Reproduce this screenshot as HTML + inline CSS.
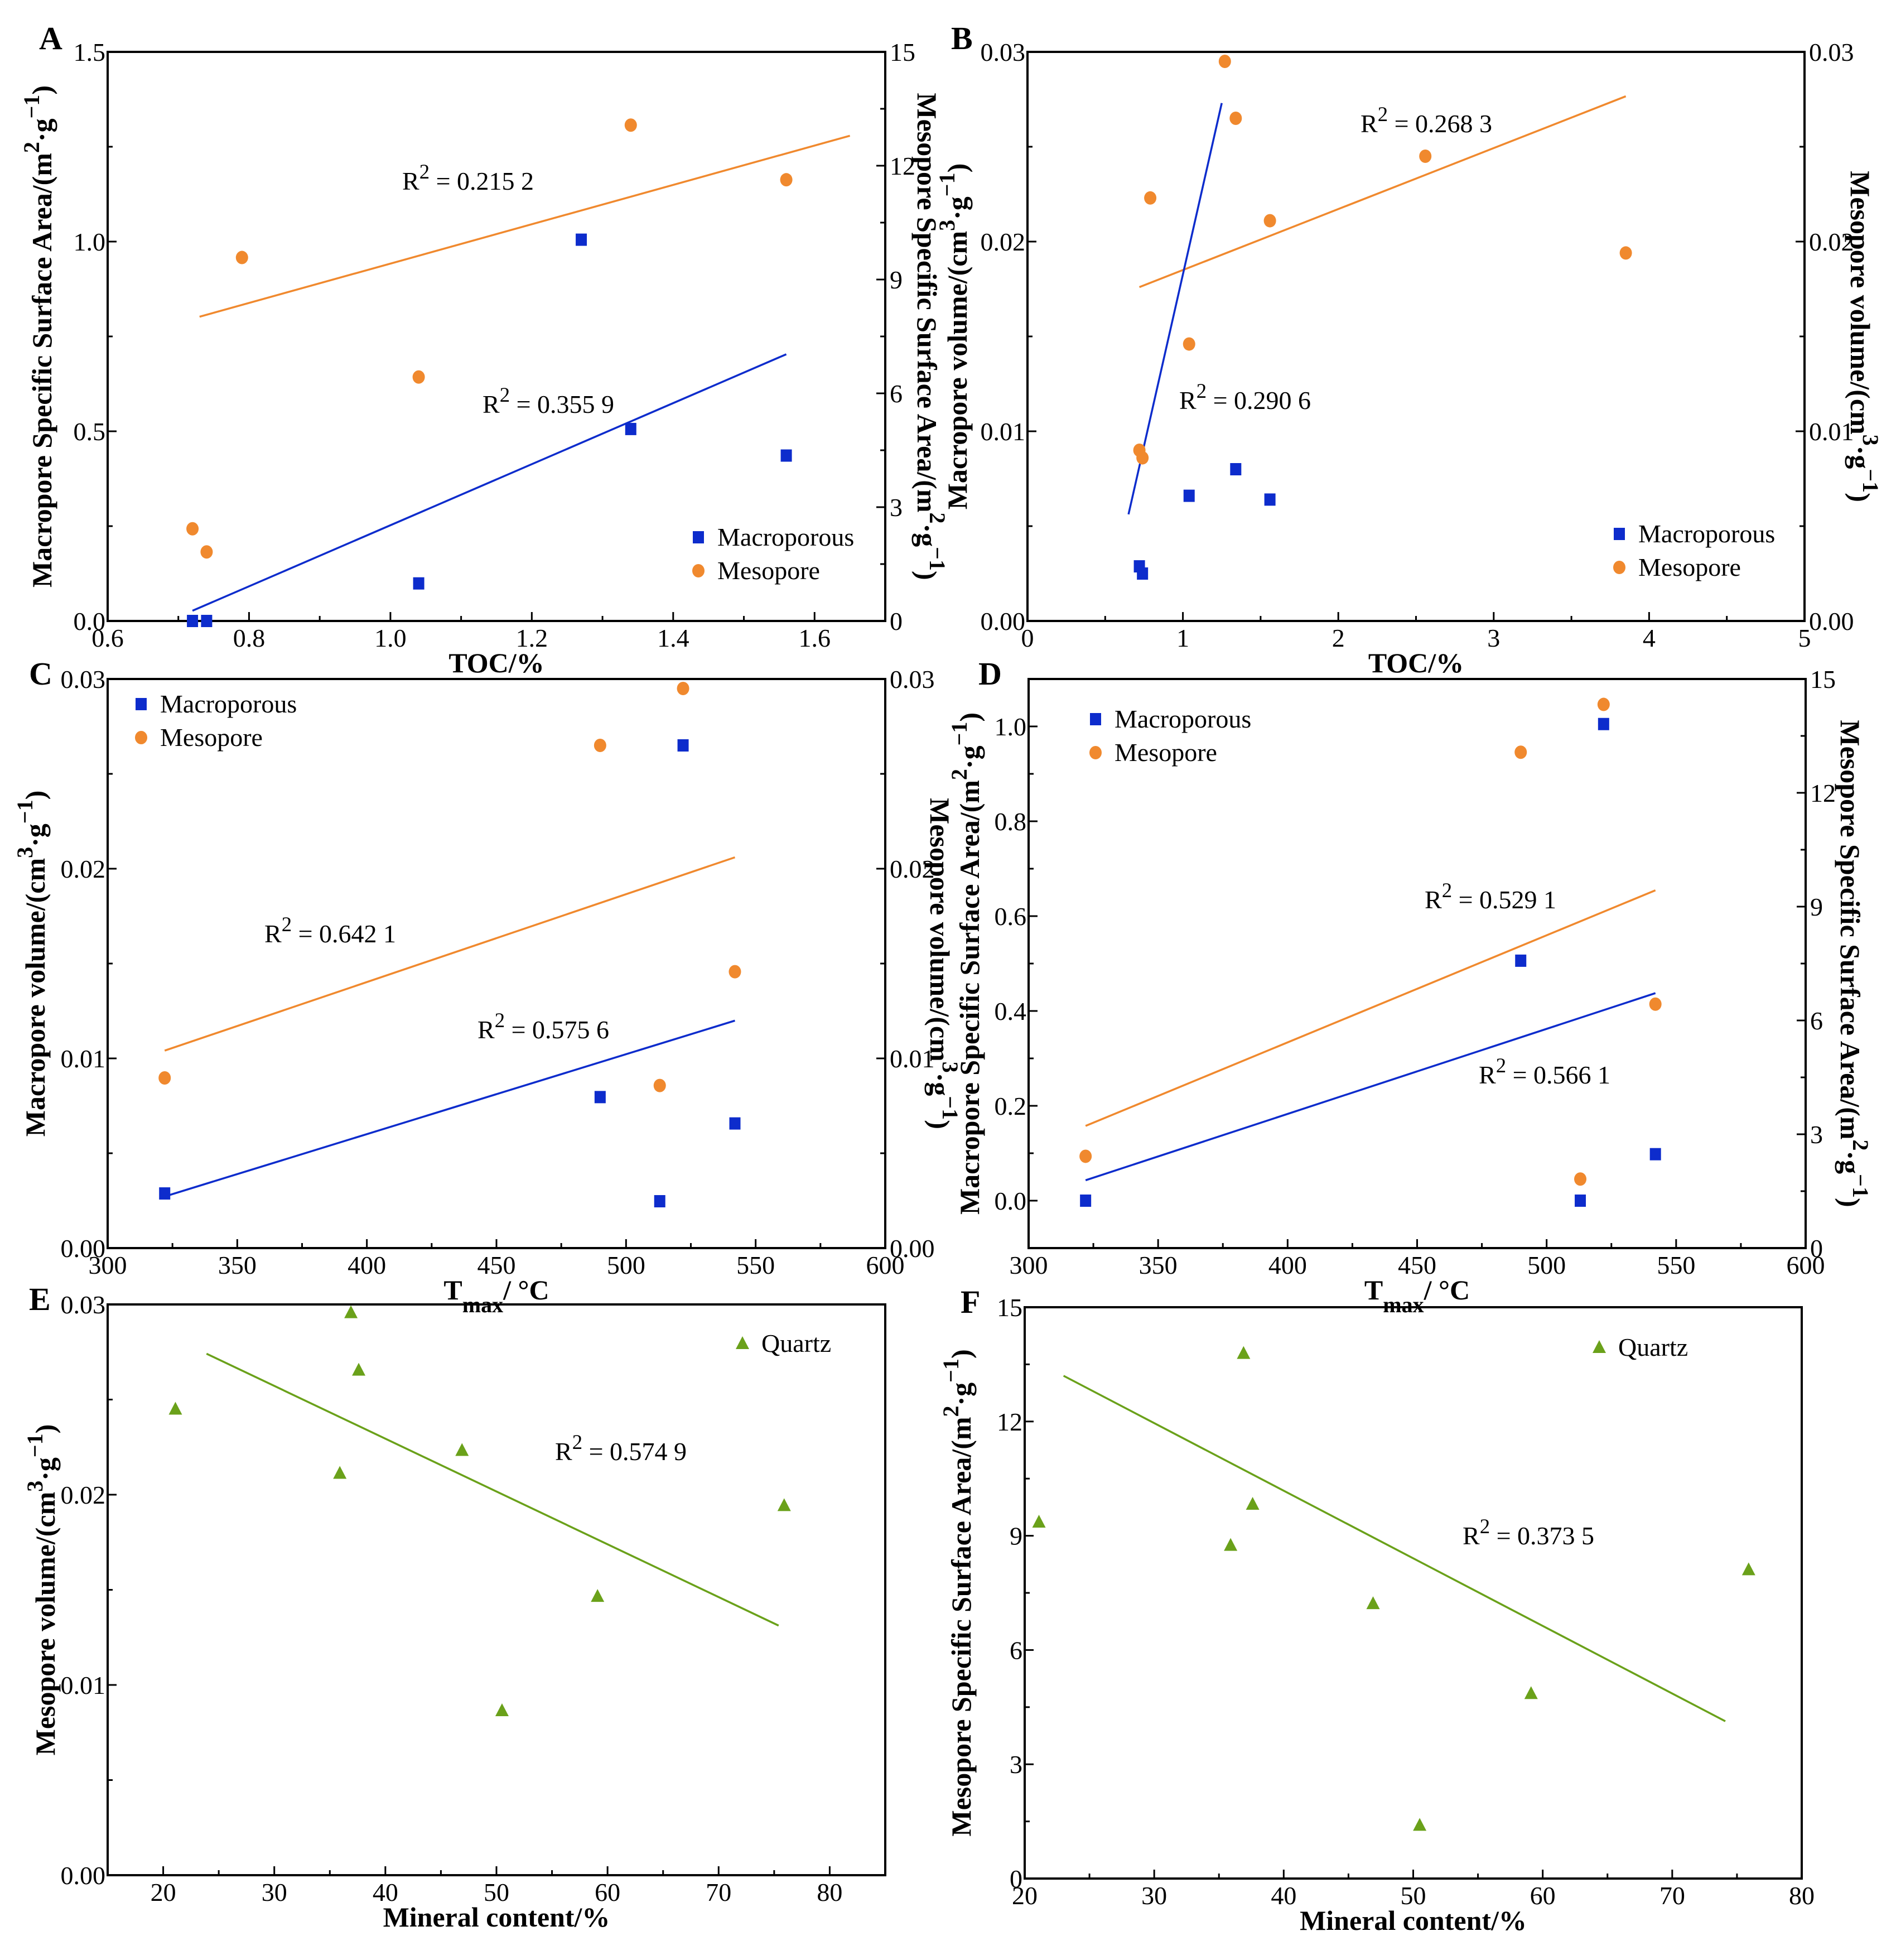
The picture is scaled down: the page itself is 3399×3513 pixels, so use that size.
<!DOCTYPE html>
<html><head><meta charset="utf-8">
<style>
html,body{margin:0;padding:0;background:#fff;}
svg{display:block;font-family:"Liberation Serif","DejaVu Serif",serif;}
</style></head>
<body>
<svg id="fig" width="3399" height="3513" viewBox="0 0 3399 3513" xmlns="http://www.w3.org/2000/svg"></svg>
<script>
// ---------- Panel A data ----------
const aX = [0.72, 0.74, 1.04, 1.27, 1.34, 1.56];
const aMacro = [0, 0, 0.099, 1.005, 0.506, 0.436];
const aMesoX = [0.72, 0.74, 0.79, 1.04, 1.34, 1.56];
const aMeso = [2.43, 1.82, 9.58, 6.43, 13.07, 11.63];
const aMacroFitX = [0.72, 1.56];
const aMacroFitY = [0.027, 0.703];
const aMesoFitX = [0.73, 1.65];
const aMesoFitY = [8.02, 12.79];
// ---------- Panel B data ----------
const bMacroX = [0.72, 0.74, 1.04, 1.34, 1.56];
const bMacro = [0.00288, 0.0025, 0.0066, 0.0080, 0.0064];
const bMesoX = [1.27, 1.34, 0.79, 1.56, 2.56, 3.85, 1.04, 0.72, 0.74];
const bMeso = [0.0295, 0.0265, 0.0223, 0.0211, 0.0245, 0.0194, 0.0146, 0.0090, 0.0086];
const bMacroFitX = [0.65, 1.25];
const bMacroFitY = [0.00562, 0.0273];
const bMesoFitX = [0.72, 3.85];
const bMesoFitY = [0.0176, 0.02766];
// ---------- Panel C data ----------
const cX = [322, 490, 522, 513, 542];
const cMacro = [0.00288, 0.00796, 0.0265, 0.00247, 0.00657];
const cMeso = [0.00897, 0.0265, 0.0295, 0.00857, 0.01457];
const cMacroFitX = [322, 542];
const cMacroFitY = [0.00272, 0.01199];
const cMesoFitX = [322, 542];
const cMesoFitY = [0.01041, 0.0206];
// ---------- Panel D data ----------
const dX = [322, 490, 522, 513, 542];
const dMacro = [0.0, 0.506, 1.005, 0.0, 0.098];
const dMeso = [2.42, 13.07, 14.33, 1.82, 6.43];
const dMacroFitX = [322, 542];
const dMacroFitY = [0.043, 0.4376];
const dMesoFitX = [322, 542];
const dMesoFitY = [3.22, 9.43];
// ---------- Panel E/F data ----------
const quartzX = [21.1, 36.9, 37.6, 35.9, 46.9, 59.1, 75.9, 50.5];
const eMeso = [0.0245, 0.02957, 0.02655, 0.02113, 0.02233, 0.01466, 0.01943, 0.00865];
const eFitX = [23.9, 75.4];
const eFitY = [0.02741, 0.01312];
const fMeso = [9.36, 13.79, 9.83, 8.75, 7.22, 4.86, 8.11, 1.40];
const fFitX = [23, 74.1];
const fFitY = [13.2, 4.13];
// ---------- tick label arrays ----------
const ticksTOC1 = ["0.6","0.8","1.0","1.2","1.4","1.6"];
const ticksTOC2 = ["0","1","2","3","4","5"];
const ticksT = ["300","350","400","450","500","550","600"];
const ticksMin15 = ["20","30","40","50","60","70","80"];
const ticksMin20 = ["20","30","40","50","60","70","80"];
const ticksArea = ["0.0","0.5","1.0","1.5"];
const ticksArea15 = ["0","3","6","9","12","15"];
const ticksVol = ["0.00","0.01","0.02","0.03"];
const ticksVolR = ["0.00","0.01","0.02","0.03"];
const ticksAreaD = ["0.0","0.2","0.4","0.6","0.8","1.0"];

const BLUE = "#0d2ccc", ORANGE = "#f0892e", GREEN = "#6aa11a";
const NS = "http://www.w3.org/2000/svg";
const svg = document.getElementById("fig");

function mk(tag, attrs, parent) {
  const e = document.createElementNS(NS, tag);
  for (const k in attrs) e.setAttribute(k, attrs[k]);
  (parent || svg).appendChild(e);
  return e;
}
function lin(d0, d1, p0, p1) { return v => p0 + (v - d0) / (d1 - d0) * (p1 - p0); }

function richText(parent, x, y, parts, opts) {
  const t = mk("text", Object.assign({x: x, y: y}, opts), parent);
  parts.forEach(p => {
    const s = document.createElementNS(NS, "tspan");
    if (p[1] === "sup") { s.setAttribute("baseline-shift", "super"); s.setAttribute("font-size", "0.8em"); }
    if (p[1] === "sub") { s.setAttribute("baseline-shift", "sub"); s.setAttribute("font-size", "0.8em"); }
    s.textContent = p[0];
    t.appendChild(s);
  });
  return t;
}

function panel(cfg) {
  const g = mk("g", {});
  
  
  const L = cfg.box[0], T = cfg.box[1], R = cfg.box[2], B = cfg.box[3];
  const sx = lin(cfg.x[0], cfg.x[1], L, R);
  const sy = lin(cfg.y[0], cfg.y[1], B, T);
  const sy2 = cfg.y2 ? lin(cfg.y2[0], cfg.y2[1], B, T) : null;
  const frame = mk("rect", {x: L, y: T, width: R - L, height: B - T, fill: "none", stroke: "#000", "stroke-width": 4}, g);
  
  
  const xt = mk("g", {}, g);
  
  
  for (let v = cfg.x[0]; v <= cfg.x[1] + 1e-9; v += cfg.xMinor) {
    const px = sx(v);
    const isMaj = Math.abs(Math.round((v - cfg.xMajor0) / cfg.xMajor) * cfg.xMajor + cfg.xMajor0 - v) < 1e-6;
    mk("line", {x1: px, x2: px, y1: B, y2: B - (isMaj ? 16 : 9), stroke: "#000", "stroke-width": 3}, xt);
  }
  cfg.xLabels.forEach((lab, i) => {
    const v = parseFloat(lab);
    const t = mk("text", {x: sx(v), y: B + 46, "font-size": 46, "text-anchor": "middle"}, xt);
    t.textContent = lab;
  });
  const yt = mk("g", {}, g);
  
  
  for (let v = cfg.yMinStart; v <= cfg.y[1] + 1e-9; v += cfg.yMinor) {
    const py = sy(v);
    const isMaj = Math.abs(Math.round(v / cfg.yMajor) * cfg.yMajor - v) < 1e-9;
    mk("line", {x1: L, x2: L + (isMaj ? 16 : 9), y1: py, y2: py, stroke: "#000", "stroke-width": 3}, yt);
  }
  cfg.yLabels.forEach(lab => {
    const v = parseFloat(lab);
    const t = mk("text", {x: L - 4, y: sy(v) + 16, "font-size": 46, "text-anchor": "end"}, yt);
    t.textContent = lab;
  });
  if (sy2) {
    const yt2 = mk("g", {}, g);
    
    
    for (let v = cfg.y2[0]; v <= cfg.y2[1] + 1e-9; v += cfg.y2Minor) {
      const py = sy2(v);
      const isMaj = Math.abs(Math.round(v / cfg.y2Major) * cfg.y2Major - v) < 1e-9;
      mk("line", {x1: R, x2: R - (isMaj ? 16 : 9), y1: py, y2: py, stroke: "#000", "stroke-width": 3}, yt2);
    }
    cfg.y2Labels.forEach(lab => {
      const v = parseFloat(lab);
      const t = mk("text", {x: R + 8, y: sy2(v) + 16, "font-size": 46}, yt2);
      t.textContent = lab;
    });
  }
  const xtT = richText(g, (L + R) / 2, B + 92, cfg.xTitle, {"font-size": 50, "font-weight": "bold", "text-anchor": "middle"});
  
  
  const cy = (T + B) / 2;
  const ytT = richText(g, 0, 0, cfg.yTitle, {"font-size": 50, "font-weight": "bold", "text-anchor": "middle", transform: "translate(" + cfg.yTitleX + "," + cy + ") rotate(-90)"});
  
  
  if (cfg.y2Title) {
    const y2T = richText(g, 0, 0, cfg.y2Title, {"font-size": 50, "font-weight": "bold", "text-anchor": "middle", transform: "translate(" + cfg.y2TitleX + "," + cy + ") rotate(90)"});
    
    
  }
  const letter = mk("text", {x: cfg.letterPos[0], y: cfg.letterPos[1], "font-size": 58, "font-weight": "bold"}, g);
  letter.textContent = cfg.letter;
  
  
  return {g, sx, sy, sy2};
}

function fitLine(p, xs, ys, scaleY, color, name) {
  const l = mk("line", {x1: p.sx(xs[0]), y1: scaleY(ys[0]), x2: p.sx(xs[1]), y2: scaleY(ys[1]), stroke: color, "stroke-width": 3.5}, p.g);
  
  
}
function drawMarker(parent, kind, cx, cy, color) {
  let m;
  if (kind === "square") m = mk("rect", {x: cx - 10, y: cy - 11, width: 20, height: 22, fill: color}, parent);
  else if (kind === "circle") m = mk("ellipse", {cx: cx, cy: cy, rx: 11, ry: 12, fill: color}, parent);
  else m = mk("polygon", {points: (cx) + "," + (cy - 13) + " " + (cx - 12) + "," + (cy + 10) + " " + (cx + 12) + "," + (cy + 10), fill: color}, parent);
  return m;
}
function points(p, xs, ys, scaleY, kind, color, name) {
  const sg = mk("g", {}, p.g);
  
  
  xs.forEach((x, i) => {
    const m = drawMarker(sg, kind, p.sx(x), scaleY(ys[i]), color);
    
    
  });
}
function r2(p, x, y, val) {
  const t = richText(p.g, x, y, [["R"], ["2", "sup"], [" = " + val]], {"font-size": 46});
  
  
}
function legend(p, items, x, y) {
  const lg = mk("g", {}, p.g);
  
  
  items.forEach((it, i) => {
    const yy = y + i * 60;
    const e = mk("g", {}, lg);
    
    
    drawMarker(e, it[0], x, yy, it[1]);
    const t = mk("text", {x: x + 34, y: yy + 15, "font-size": 46}, e);
    t.textContent = it[2];
  });
}

const areaT = [["Macropore Specific Surface Area/(m"], ["2", "sup"], ["·g"], ["−1", "sup"], [")"]];
const mesoAreaT = [["Mesopore Specific Surface Area/(m"], ["2", "sup"], ["·g"], ["−1", "sup"], [")"]];
const macroVolT = [["Macropore  volume/(cm"], ["3", "sup"], ["·g"], ["−1", "sup"], [")"]];
const mesoVolT = [["Mesopore  volume/(cm"], ["3", "sup"], ["·g"], ["−1", "sup"], [")"]];
const tmaxT = [["T"], ["max", "sub"], ["/ °C"]];
const legMM = [["square", BLUE, "Macroporous"], ["circle", ORANGE, "Mesopore"]];

let p = panel({name: "panel-a", letter: "A", letterPos: [70, 88], box: [193, 93, 1587, 1113],
  x: [0.6, 1.7], xMinor: 0.1, xMajor: 0.2, xMajor0: 0.6, xLabels: ticksTOC1,
  y: [0, 1.5], yMinStart: 0, yMinor: 0.25, yMajor: 0.5, yLabels: ticksArea,
  y2: [0, 15], y2Minor: 1.5, y2Major: 3, y2Labels: ticksArea15,
  xTitle: [["TOC/%"]], yTitle: areaT, yTitleX: 92, y2Title: mesoAreaT, y2TitleX: 1645});
fitLine(p, aMesoFitX, aMesoFitY, p.sy2, ORANGE, "mesopore-fit-line");
fitLine(p, aMacroFitX, aMacroFitY, p.sy, BLUE, "macropore-fit-line");
points(p, aMesoX, aMeso, p.sy2, "circle", ORANGE, "mesopore-series");
points(p, aX, aMacro, p.sy, "square", BLUE, "macropore-series");
r2(p, 721, 340, "0.215 2"); r2(p, 865, 740, "0.355 9");
legend(p, legMM, 1252, 963);

p = panel({name: "panel-b", letter: "B", letterPos: [1705, 88], box: [1842, 93, 3235, 1113],
  x: [0, 5], xMinor: 0.5, xMajor: 1, xMajor0: 0, xLabels: ticksTOC2,
  y: [0, 0.03], yMinStart: 0, yMinor: 0.005, yMajor: 0.01, yLabels: ticksVol,
  y2: [0, 0.03], y2Minor: 0.005, y2Major: 0.01, y2Labels: ticksVolR,
  xTitle: [["TOC/%"]], yTitle: macroVolT, yTitleX: 1733, y2Title: mesoVolT, y2TitleX: 3318});
fitLine(p, bMesoFitX, bMesoFitY, p.sy2, ORANGE, "mesopore-fit-line");
fitLine(p, bMacroFitX, bMacroFitY, p.sy, BLUE, "macropore-fit-line");
points(p, bMesoX, bMeso, p.sy2, "circle", ORANGE, "mesopore-series");
points(p, bMacroX, bMacro, p.sy, "square", BLUE, "macropore-series");
r2(p, 2439, 237, "0.268 3"); r2(p, 2114, 733, "0.290 6");
legend(p, legMM, 2903, 957);

p = panel({name: "panel-c", letter: "C", letterPos: [52, 1227], box: [193, 1217, 1587, 2237],
  x: [300, 600], xMinor: 25, xMajor: 50, xMajor0: 300, xLabels: ticksT,
  y: [0, 0.03], yMinStart: 0, yMinor: 0.005, yMajor: 0.01, yLabels: ticksVol,
  y2: [0, 0.03], y2Minor: 0.005, y2Major: 0.01, y2Labels: ticksVolR,
  xTitle: tmaxT, yTitle: macroVolT, yTitleX: 80, y2Title: mesoVolT, y2TitleX: 1668});
fitLine(p, cMesoFitX, cMesoFitY, p.sy2, ORANGE, "mesopore-fit-line");
fitLine(p, cMacroFitX, cMacroFitY, p.sy, BLUE, "macropore-fit-line");
points(p, cX, cMeso, p.sy2, "circle", ORANGE, "mesopore-series");
points(p, cX, cMacro, p.sy, "square", BLUE, "macropore-series");
r2(p, 474, 1689, "0.642 1"); r2(p, 856, 1861, "0.575 6");
legend(p, legMM, 253, 1262);

p = panel({name: "panel-d", letter: "D", letterPos: [1754, 1227], box: [1844, 1217, 3237, 2237],
  x: [300, 600], xMinor: 25, xMajor: 50, xMajor0: 300, xLabels: ticksT,
  y: [-0.1, 1.1], yMinStart: 0, yMinor: 0.1, yMajor: 0.2, yLabels: ticksAreaD,
  y2: [0, 15], y2Minor: 1.5, y2Major: 3, y2Labels: ticksArea15,
  xTitle: tmaxT, yTitle: areaT, yTitleX: 1755, y2Title: mesoAreaT, y2TitleX: 3300});
fitLine(p, dMesoFitX, dMesoFitY, p.sy2, ORANGE, "mesopore-fit-line");
fitLine(p, dMacroFitX, dMacroFitY, p.sy, BLUE, "macropore-fit-line");
points(p, dX, dMeso, p.sy2, "circle", ORANGE, "mesopore-series");
points(p, dX, dMacro, p.sy, "square", BLUE, "macropore-series");
r2(p, 2554, 1628, "0.529 1"); r2(p, 2651, 1942, "0.566 1");
legend(p, legMM, 1964, 1289);

p = panel({name: "panel-e", letter: "E", letterPos: [52, 2348], box: [193, 2338, 1587, 3361],
  x: [15, 85], xMinor: 5, xMajor: 10, xMajor0: 20, xLabels: ticksMin15,
  y: [0, 0.03], yMinStart: 0, yMinor: 0.005, yMajor: 0.01, yLabels: ticksVol,
  xTitle: [["Mineral content/%"]], yTitle: mesoVolT, yTitleX: 98});
fitLine(p, eFitX, eFitY, p.sy, GREEN, "quartz-fit-line");
points(p, quartzX, eMeso, p.sy, "triangle", GREEN, "quartz-series");
r2(p, 995, 2617, "0.574 9");
legend(p, [["triangle", GREEN, "Quartz"]], 1331, 2408);

p = panel({name: "panel-f", letter: "F", letterPos: [1722, 2353], box: [1837, 2343, 3230, 3367],
  x: [20, 80], xMinor: 5, xMajor: 10, xMajor0: 20, xLabels: ticksMin20,
  y: [0, 15], yMinStart: 0, yMinor: 1.5, yMajor: 3, yLabels: ticksArea15,
  xTitle: [["Mineral content/%"]], yTitle: mesoAreaT, yTitleX: 1740});
fitLine(p, fFitX, fFitY, p.sy, GREEN, "quartz-fit-line");
points(p, quartzX, fMeso, p.sy, "triangle", GREEN, "quartz-series");
r2(p, 2622, 2768, "0.373 5");
legend(p, [["triangle", GREEN, "Quartz"]], 2867, 2415);
</script>
</body></html>
